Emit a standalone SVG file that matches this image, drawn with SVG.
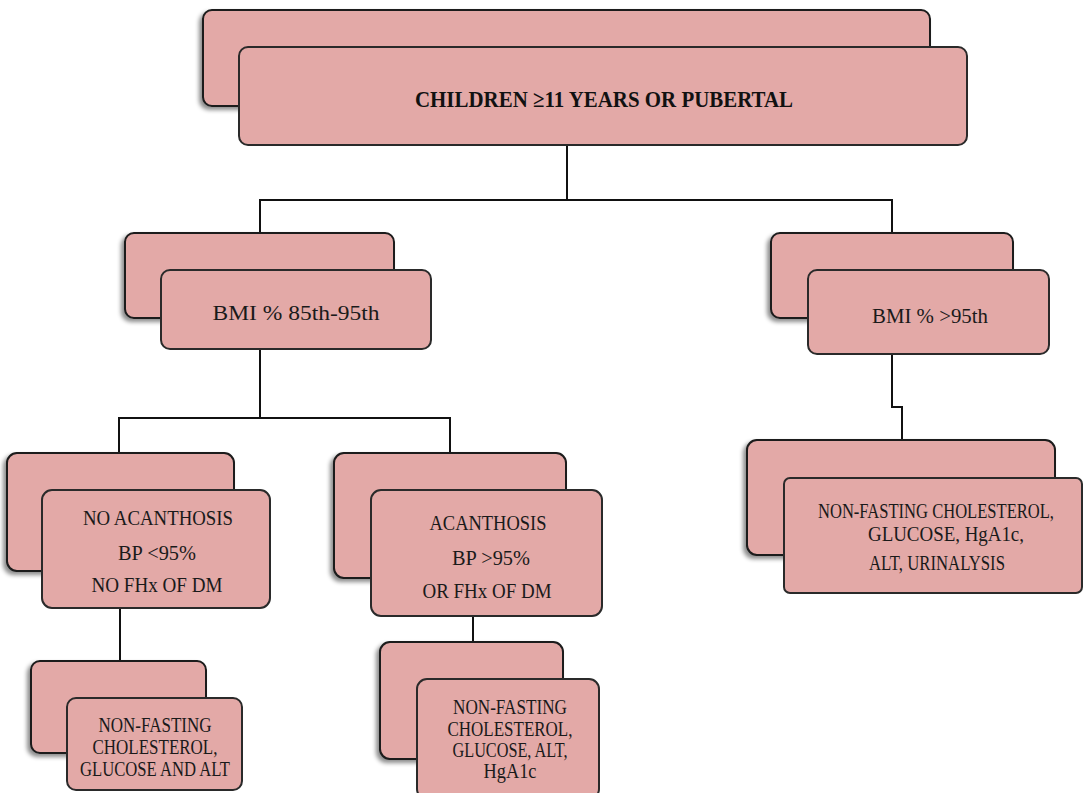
<svg xmlns="http://www.w3.org/2000/svg" width="1084" height="793" viewBox="0 0 1084 793">
<style>
.bk{fill:#E3A9A7;stroke:#1a1a1a;stroke-width:2;filter:url(#sh)}
.fr{fill:#E3A9A7;stroke:#2a2a2a;stroke-width:2}
.t{font-family:"Liberation Serif","DejaVu Serif",serif;font-size:20.5px;fill:#1a1a1a;text-anchor:middle}
.tb{font-family:"Liberation Serif","DejaVu Serif",serif;font-size:23px;font-weight:bold;fill:#111;text-anchor:middle}
.c{fill:none;stroke:#111;stroke-width:2}
</style>
<defs>
<filter id="sh" x="-10%" y="-10%" width="120%" height="130%">
<feDropShadow dx="-3" dy="3" stdDeviation="2" flood-color="#000" flood-opacity="0.45"/>
</filter>
</defs>
<rect width="1084" height="793" fill="#fff"/>
<g id="connectors">
<path class="c" d="M567 145V200M260 233V200H892V235"/>
<path class="c" d="M260 349V418M119 453V418H450V453"/>
<path class="c" d="M892 355V407H902V440"/>
<path class="c" d="M120 608V661"/>
<path class="c" d="M473 616V642"/>
</g>
<g id="node-top">
<rect class="bk" x="203" y="10" width="727" height="96" rx="9"/>
<rect class="fr" x="239" y="47" width="728" height="98" rx="9"/>
<text class="tb" x="604" y="107" textLength="378" lengthAdjust="spacingAndGlyphs">CHILDREN ≥11 YEARS OR PUBERTAL</text>
</g>
<g id="node-bmi-85-95">
<rect class="bk" x="125" y="233" width="269" height="85" rx="9"/>
<rect class="fr" x="161" y="270" width="270" height="79" rx="9"/>
<text class="t" x="296" y="320" font-size="22" textLength="167" lengthAdjust="spacingAndGlyphs">BMI % 85th-95th</text>
</g>
<g id="node-bmi-95">
<rect class="bk" x="771" y="233" width="242" height="85" rx="9"/>
<rect class="fr" x="808" y="270" width="241" height="84" rx="9"/>
<text class="t" x="930" y="323" font-size="22" textLength="116" lengthAdjust="spacingAndGlyphs">BMI % &gt;95th</text>
</g>
<g id="node-right-tests">
<rect class="bk" x="747" y="440" width="308" height="115" rx="10"/>
<rect class="fr" x="784" y="478" width="298" height="115" rx="6"/>
<text class="t" x="936" y="518" font-size="18.5" textLength="236" lengthAdjust="spacingAndGlyphs">NON-FASTING CHOLESTEROL,</text>
<text class="t" x="946" y="541" font-size="18.5" textLength="156" lengthAdjust="spacingAndGlyphs">GLUCOSE, HgA1c,</text>
<text class="t" x="937" y="570" font-size="18.5" textLength="136" lengthAdjust="spacingAndGlyphs">ALT, URINALYSIS</text>
</g>
<g id="node-no-acanthosis">
<rect class="bk" x="7" y="453" width="227" height="118" rx="10"/>
<rect class="fr" x="42" y="490" width="228" height="118" rx="10"/>
<text class="t" x="158" y="525" textLength="150" lengthAdjust="spacingAndGlyphs">NO ACANTHOSIS</text>
<text class="t" x="157" y="560" textLength="78" lengthAdjust="spacingAndGlyphs">BP &lt;95%</text>
<text class="t" x="157" y="592" textLength="131" lengthAdjust="spacingAndGlyphs">NO FHx OF DM</text>
</g>
<g id="node-acanthosis">
<rect class="bk" x="334" y="453" width="232" height="125" rx="10"/>
<rect class="fr" x="371" y="490" width="231" height="126" rx="10"/>
<text class="t" x="488" y="530" textLength="117" lengthAdjust="spacingAndGlyphs">ACANTHOSIS</text>
<text class="t" x="491" y="565" textLength="78" lengthAdjust="spacingAndGlyphs">BP &gt;95%</text>
<text class="t" x="487" y="598" textLength="129" lengthAdjust="spacingAndGlyphs">OR FHx OF DM</text>
</g>
<g id="node-left-tests">
<rect class="bk" x="31" y="661" width="175" height="92" rx="9"/>
<rect class="fr" x="67" y="698" width="175" height="92" rx="9"/>
<text class="t" x="155" y="732" textLength="113" lengthAdjust="spacingAndGlyphs">NON-FASTING</text>
<text class="t" x="155" y="754" textLength="125" lengthAdjust="spacingAndGlyphs">CHOLESTEROL,</text>
<text class="t" x="155" y="776" textLength="150" lengthAdjust="spacingAndGlyphs">GLUCOSE AND ALT</text>
</g>
<g id="node-mid-tests">
<rect class="bk" x="380" y="642" width="183" height="117" rx="10"/>
<rect class="fr" x="417" y="679" width="182" height="120" rx="10"/>
<text class="t" x="510" y="714" textLength="114" lengthAdjust="spacingAndGlyphs">NON-FASTING</text>
<text class="t" x="510" y="736" textLength="125" lengthAdjust="spacingAndGlyphs">CHOLESTEROL,</text>
<text class="t" x="510" y="757" textLength="115" lengthAdjust="spacingAndGlyphs">GLUCOSE, ALT,</text>
<text class="t" x="510" y="778" textLength="53" lengthAdjust="spacingAndGlyphs">HgA1c</text>
</g>
</svg>
